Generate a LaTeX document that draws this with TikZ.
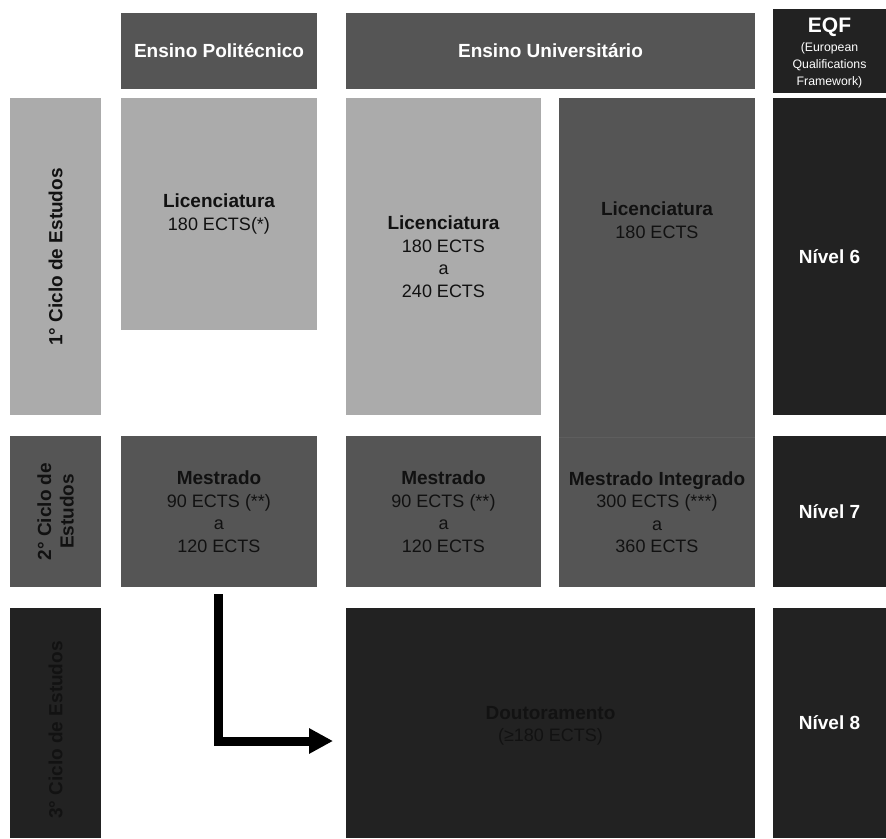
\documentclass[tikz,border=0pt]{standalone}
\usepackage{fontspec}
\setmainfont{Liberation Sans}
\usetikzlibrary{arrows.meta}
\definecolor{lightg}{HTML}{ABABAB}
\definecolor{midg}{HTML}{555555}
\definecolor{darkg}{HTML}{222222}
\definecolor{inktxt}{HTML}{111111}
\definecolor{faintx}{HTML}{121212}
\definecolor{seam}{HTML}{5E5E5E}
\newcommand{\dgbody}{\fontsize{18}{22.5}\selectfont}
\newcommand{\dgbold}{\fontsize{19}{22.5}\selectfont\bfseries}
\tikzset{
  dgcell/.style={rectangle, inner sep=0pt, outer sep=0pt, align=center, font=\dgbody, text=inktxt},
  dghead/.style={dgcell, fill=midg, text=white, font=\dgbold},
  dglabel/.style={inner sep=0pt, outer sep=0pt, align=center, font=\dgbold, text=inktxt, rotate=90},
  dgtext/.style={inner sep=0pt, outer sep=0pt, align=center, font=\dgbody, text=inktxt},
  bigarrow/.style={line width=9pt, black, -{Triangle[length=24pt,width=24pt]}}
}
\begin{document}
\begin{tikzpicture}[x=1pt,y=-1pt]
\useasboundingbox (0,0) rectangle (886,838);
\fill[white] (0,0) rectangle (886,838);
% headers
\node[dghead, minimum width=196pt, minimum height=76pt] (hpol) at (219,51) {Ensino Politécnico};
\node[dghead, minimum width=409pt, minimum height=76pt] (huni) at (550.5,51) {Ensino Universitário};
\node[dgcell, fill=darkg, minimum width=113pt, minimum height=84pt] (heqf) at (829.5,51) {};
\node[dgtext, text=white, font=\fontsize{12.3}{17}\selectfont] (heqft) at (829.5,53)
  {{\fontsize{21}{21}\selectfont\bfseries EQF}\\[2pt](European\\Qualifications\\Framework)};
% left column
\node[dgcell, fill=lightg, minimum width=91pt, minimum height=317pt] (c1) at (55.5,256.5) {};
\node[dglabel] (c1t) at (55.5,257) {1° Ciclo de Estudos};
\node[dgcell, fill=midg, minimum width=91pt, minimum height=151pt] (c2) at (55.5,511.5) {};
\node[dglabel] (c2t) at (55.5,511.5) {2° Ciclo de\\Estudos};
\node[dgcell, fill=darkg, minimum width=91pt, minimum height=230pt] (c3) at (55.5,723) {};
\node[dglabel, text=faintx] (c3t) at (55.5,730) {3° Ciclo de Estudos};
% politecnico
\node[dgcell, fill=lightg, minimum width=196pt, minimum height=232pt] (lpol) at (219,214)
  {{\dgbold Licenciatura}\\180 ECTS(*)};
\node[dgcell, fill=midg, minimum width=196pt, minimum height=151pt] (mpol) at (219,511.5)
  {{\dgbold Mestrado}\\90 ECTS (**)\\a\\120 ECTS};
% universitario
\node[dgcell, fill=lightg, minimum width=195pt, minimum height=317pt] (luni) at (443.5,256.5)
  {{\dgbold Licenciatura}\\180 ECTS\\a\\240 ECTS};
\node[dgcell, fill=midg, minimum width=195pt, minimum height=151pt] (muni) at (443.5,511.5)
  {{\dgbold Mestrado}\\90 ECTS (**)\\a\\120 ECTS};
\node[dgcell, fill=midg, minimum width=196pt, minimum height=339pt] (dlic) at (657,267.5) {};
\node[dgtext] (dlict) at (657,220) {{\dgbold Licenciatura}\\180 ECTS};
\node[dgcell, fill=midg, minimum width=196pt, minimum height=150pt] (mint) at (657,512)
  {{\dgbold Mestrado Integrado}\\300 ECTS (***)\\a\\360 ECTS};
\draw[seam, line width=0.8pt] (dlic.south west) -- (dlic.south east);
\node[dgcell, fill=darkg, minimum width=409pt, minimum height=230pt] (dout) at (550.5,723) {};
\node[dgtext, text=faintx] (doutt) at (550.5,726) {{\dgbold Doutoramento}\\(≥180 ECTS)};
% EQF levels
\node[dgcell, fill=darkg, text=white, font=\dgbold, minimum width=113pt, minimum height=317pt] (n6) at (829.5,256.5) {Nível 6};
\node[dgcell, fill=darkg, text=white, font=\dgbold, minimum width=113pt, minimum height=151pt] (n7) at (829.5,511.5) {Nível 7};
\node[dgcell, fill=darkg, text=white, font=\dgbold, minimum width=113pt, minimum height=230pt] (n8) at (829.5,723) {Nível 8};
% arrow
\coordinate (abend) at (218,741);
\draw[bigarrow, shorten <=7pt, shorten >=13pt] (mpol.south -| abend) |- (dout.west |- abend);
\end{tikzpicture}
\end{document}
